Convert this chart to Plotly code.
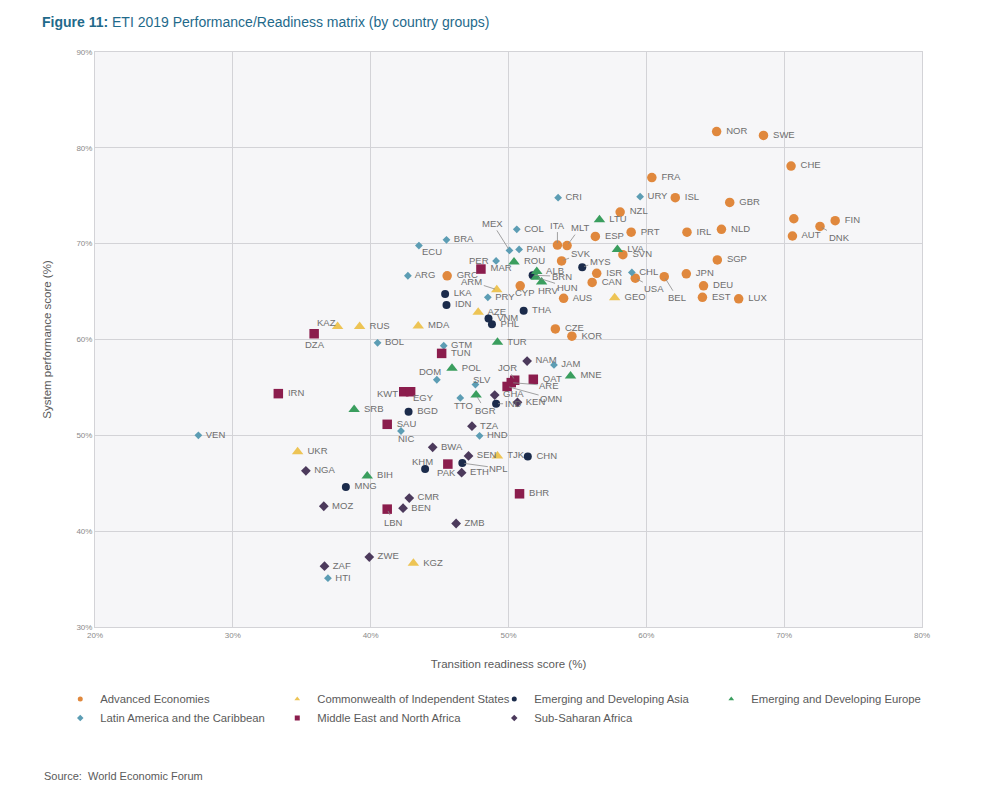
import plotly.graph_objects as go

# ---------------- data ----------------
adv_names = ["NOR", "SWE", "CHE", "FRA", "ISL", "GBR", "NZL", "", "FIN", "DNK", "AUT", "ITA", "MLT", "ESP",
             "PRT", "IRL", "NLD", "SVN", "SVK", "GRC", "ISR", "CAN", "USA", "BEL", "CYP", "AUS", "SGP",
             "JPN", "DEU", "EST", "LUX", "CZE", "KOR"]
adv_x = [65.1, 68.5, 70.5, 60.4, 62.1, 66.05, 58.1, 70.7, 73.7, 72.6, 70.6, 53.55, 54.25, 56.3,
         58.9, 62.95, 65.45, 58.3, 53.85, 45.55, 56.4, 56.07, 59.2, 61.3, 50.85, 54.0, 65.15,
         62.9, 64.15, 64.07, 66.7, 53.4, 54.6]
adv_y = [81.7, 81.3, 78.1, 76.9, 74.8, 74.3, 73.3, 72.6, 72.4, 71.8, 70.8, 69.85, 69.8, 70.75,
         71.2, 71.2, 71.5, 68.85, 68.2, 66.65, 66.9, 65.95, 66.4, 66.55, 65.6, 64.3, 68.3,
         66.85, 65.6, 64.4, 64.25, 61.1, 60.35]

cis_names = ["KAZ", "RUS", "MDA", "ARM", "AZE", "GEO", "UKR", "TJK", "KGZ"]
cis_x = [37.6, 39.2, 43.45, 49.15, 47.8, 57.7, 34.7, 49.2, 43.1]
cis_y = [61.35, 61.35, 61.4, 65.2, 62.85, 64.35, 48.3, 47.85, 36.65]

asia_names = ["MYS", "BRN", "LKA", "IDN", "THA", "VNM", "PHL", "BGD", "IND", "MNG", "KHM", "NPL", "CHN"]
asia_x = [55.35, 51.75, 45.4, 45.5, 51.1, 48.55, 48.8, 42.75, 49.1, 38.2, 43.95, 46.65, 51.4]
asia_y = [67.55, 66.7, 64.75, 63.6, 63.0, 62.2, 61.6, 52.45, 53.3, 44.6, 46.5, 47.1, 47.8]

eur_names = ["LTU", "LVA", "ROU", "ALB", "HUN", "HRV", "TUR", "POL", "BGR", "SRB", "MNE", "BIH"]
eur_x = [56.6, 57.9, 50.4, 52.05, 52.0, 52.4, 49.2, 45.9, 47.65, 38.8, 54.5, 39.75]
eur_y = [72.5, 69.4, 68.1, 67.1, 66.5, 66.0, 59.7, 57.0, 54.2, 52.7, 56.2, 45.75]

lat_names = ["CRI", "URY", "COL", "MEX", "PAN", "BRA", "ECU", "PER", "ARG", "CHL", "PRY", "BOL", "GTM",
             "DOM", "SLV", "TTO", "JAM", "NIC", "HND", "VEN", "HTI"]
lat_x = [53.6, 59.55, 50.6, 50.07, 50.77, 45.5, 43.5, 49.1, 42.7, 58.95, 48.5, 40.5, 45.3,
         44.8, 47.6, 46.5, 53.3, 42.2, 47.9, 27.5, 36.9]
lat_y = [74.8, 74.9, 71.5, 69.3, 69.4, 70.4, 69.8, 68.2, 66.65, 67.0, 64.4, 59.65, 59.35,
         55.8, 55.3, 53.9, 57.35, 50.45, 49.95, 50.0, 35.1]

mena_names = ["MAR", "DZA", "TUN", "IRN", "KWT", "EGY", "SAU", "JOR", "ARE", "OMN", "QAT", "PAK", "LBN", "BHR"]
mena_x = [48.0, 35.9, 45.15, 33.3, 42.4, 42.9, 41.2, 50.45, 50.2, 49.9, 51.8, 45.6, 41.2, 50.8]
mena_y = [67.35, 60.6, 58.55, 54.35, 54.55, 54.55, 51.15, 55.75, 55.5, 55.1, 55.85, 47.0, 42.3, 43.9]

ssa_names = ["NAM", "GHA", "KEN", "TZA", "BWA", "SEN", "ETH", "NGA", "CMR", "BEN", "MOZ", "ZMB", "ZWE", "ZAF"]
ssa_x = [51.35, 49.0, 50.65, 47.35, 44.5, 47.1, 46.6, 35.3, 42.8, 42.35, 36.6, 46.2, 39.9, 36.65]
ssa_y = [57.75, 54.2, 53.45, 50.95, 48.75, 47.85, 46.1, 46.3, 43.45, 42.4, 42.6, 40.8, 37.3, 36.35]

group_names = ["Advanced Economies", "Commonwealth of Independent States", "Emerging and Developing Asia",
               "Emerging and Developing Europe", "Latin America and the Caribbean",
               "Middle East and North Africa", "Sub-Saharan Africa"]

x_ticks = [20, 30, 40, 50, 60, 70, 80]
x_tick_labels = ["20%", "30%", "40%", "50%", "60%", "70%", "80%"]
y_ticks = [30, 40, 50, 60, 70, 80, 90]
y_tick_labels = ["30%", "40%", "50%", "60%", "70%", "80%", "90%"]

# ---------------- styles ----------------
groups = [
    (adv_names, adv_x, adv_y, dict(symbol="circle", size=9.5, color="#E0883D")),
    (cis_names, cis_x, cis_y, dict(symbol="triangle-up", size=10, color="#EDC455")),
    (asia_names, asia_x, asia_y, dict(symbol="circle", size=8, color="#1B2B4B")),
    (eur_names, eur_x, eur_y, dict(symbol="triangle-up", size=10, color="#3A9E5E")),
    (lat_names, lat_x, lat_y, dict(symbol="diamond", size=6, color="#5C9DB4")),
    (mena_names, mena_x, mena_y, dict(symbol="square", size=9.5, color="#8B1D4D")),
    (ssa_names, ssa_x, ssa_y, dict(symbol="diamond", size=7.5, color="#4C3A5C")),
]

# labels with leader lines: pixel offset of label centre from the point
leaders = {
    "ITA": (0, -20), "MLT": (13, -18), "MEX": (-17, -27), "ARM": (-25, -8), "SVK": (19, -7),
    "MYS": (18, -6), "USA": (19, 10), "BEL": (13, 21), "DNK": (19, 11), "BRN": (29, 1),
    "HUN": (31, 10), "BGR": (9, 15), "JOR": (-7, -13), "ARE": (38, 3), "OMN": (44, 12),
    "NPL": (36, 5), "IND": (17, 0), "LBN": (6, 13),
}
# labels without lines placed off the default right side: pixel offset (dx right, dy down)
offsets = {
    "KAZ": (-11, -4), "DZA": (1, 11), "DOM": (-7, -8), "SLV": (7, -5), "KHM": (-3, -7),
    "PAK": (-1, 8), "TTO": (3, 8), "EGY": (13, 6), "KWT": (-16, 2), "NIC": (6, 7),
    "CYP": (5, 7), "HRV": (7, 8), "ECU": (13, 6), "PER": (-17, 0),
}

FONT = "Liberation Sans, Arial, sans-serif"
LABEL_COLOR = "#6E6E6E"
LABEL_SIZE = 9.5
label_font = dict(size=LABEL_SIZE, color=LABEL_COLOR, family=FONT)

fig = go.Figure()
annotations = []
for gname, (names, xs, ys, mk) in zip(group_names, groups):
    texts = []
    for n, xv, yv in zip(names, xs, ys):
        if n in leaders:
            texts.append("")
            ax, ay = leaders[n]
            annotations.append(dict(x=xv, y=yv, xref="x", yref="y", text=n, showarrow=True,
                                    arrowhead=0, arrowwidth=0.8, arrowcolor="#8A8A8A",
                                    ax=ax, ay=ay, standoff=2, font=label_font))
        elif n in offsets:
            texts.append("")
            dx, dy = offsets[n]
            annotations.append(dict(x=xv, y=yv, xref="x", yref="y", text=n, showarrow=False,
                                    xanchor="center", yanchor="middle", xshift=dx, yshift=-dy,
                                    font=label_font))
        else:
            texts.append(" " + n if n else "")
    fig.add_trace(go.Scatter(
        x=xs, y=ys, mode="markers+text", text=texts,
        textposition="middle right", textfont=label_font,
        marker=dict(symbol=mk["symbol"], size=mk["size"], color=mk["color"], line=dict(width=0)),
        name=gname, showlegend=False, hovertext=names, hoverinfo="text+x+y"))
    # legend-only entry with small marker
    fig.add_trace(go.Scatter(
        x=[None], y=[None], mode="markers", name=gname,
        marker=dict(symbol=mk["symbol"], size=5, color=mk["color"]), showlegend=True))

# layout geometry (figure pixels): plot area x 87..914, y 44..619
annotations += [
    dict(text="<b>Figure 11:</b> ETI 2019 Performance/Readiness matrix (by country groups)",
         xref="paper", yref="paper", x=-0.0665, y=1.052, xanchor="left", yanchor="middle",
         showarrow=False, font=dict(size=14, color="#1F6A8B", family=FONT)),
    dict(text="Source:  World Economic Forum", xref="paper", yref="paper",
         x=-0.064, y=-0.259, xanchor="left", yanchor="middle",
         showarrow=False, font=dict(size=11, color="#5A5A5A", family=FONT)),
]

axis_common = dict(showgrid=True, gridcolor="#D3D3D7", gridwidth=1, zeroline=False,
                   showline=True, linecolor="#D3D3D7", linewidth=1, mirror=True,
                   ticks="", tickmode="array", tickfont=dict(size=8, color="#8A8A8A", family=FONT))

fig.update_layout(
    width=992, height=798,
    margin=dict(l=87, r=78, t=44, b=179),
    paper_bgcolor="white", plot_bgcolor="#F6F6F8",
    font=dict(family=FONT, color="#555555"),
    xaxis=dict(range=[20, 80], tickvals=x_ticks, ticktext=x_tick_labels,
               title=dict(text="Transition readiness score (%)", font=dict(size=11.5, color="#5A5A5A"), standoff=21),
               **axis_common),
    yaxis=dict(range=[30, 90], tickvals=y_ticks, ticktext=y_tick_labels,
               title=dict(text="System performance score (%)", font=dict(size=11.5, color="#5A5A5A"), standoff=22),
               **axis_common),
    legend=dict(orientation="h", x=-0.042, y=-0.1, xanchor="left", yanchor="top",
                entrywidth=172, entrywidthmode="pixels", itemwidth=30,
                font=dict(size=11.3, color="#5A5A5A", family=FONT), tracegroupgap=0,
                bgcolor="rgba(0,0,0,0)"),
    annotations=annotations,
    showlegend=True,
)

fig.write_html("out.html")
